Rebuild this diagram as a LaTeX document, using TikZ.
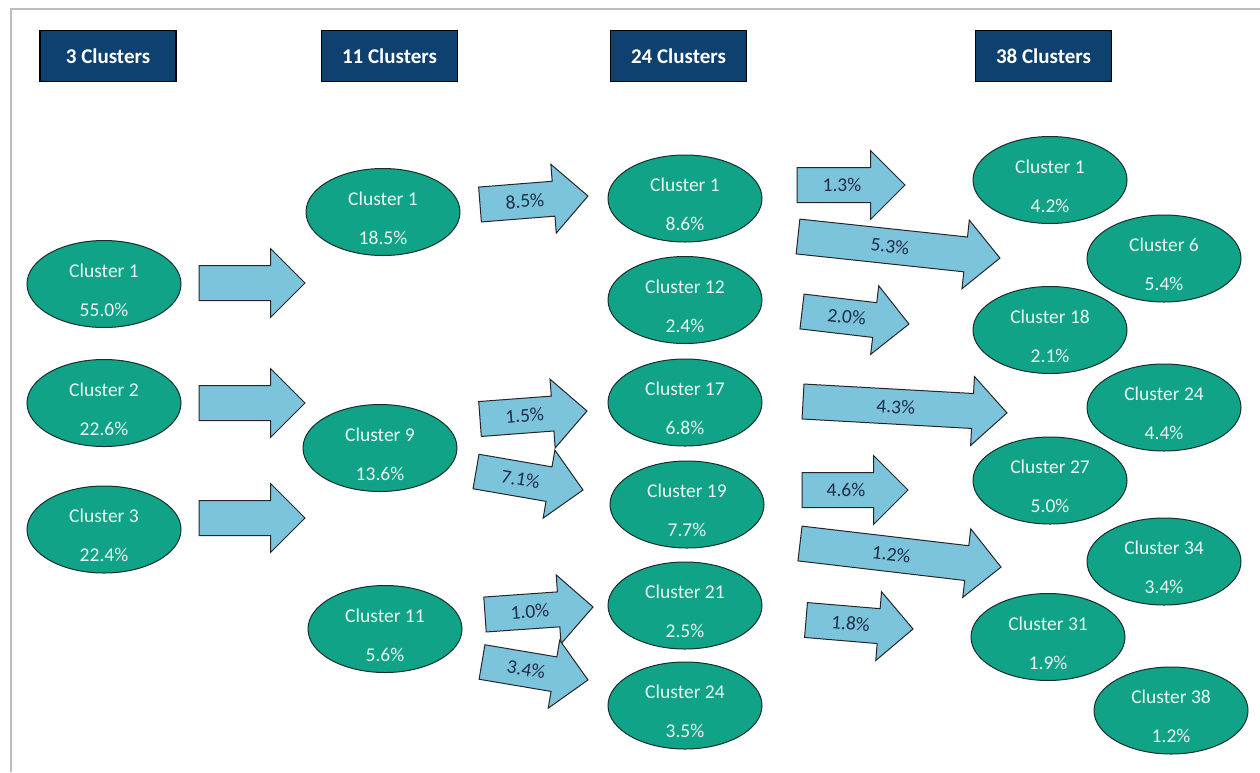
\documentclass[tikz,border=0pt]{standalone}
\usepackage{fontspec}
\setmainfont{Carlito}
\usetikzlibrary{shapes.geometric,shapes.arrows,calc}
\definecolor{hdrblue}{HTML}{0E416F}
\definecolor{clusfill}{HTML}{10A387}
\definecolor{clusedge}{HTML}{15302A}
\definecolor{arrowblue}{HTML}{7CC3DC}
\definecolor{labelnavy}{HTML}{1E2D4A}
\definecolor{clustext}{HTML}{EAF6F2}
\definecolor{framegray}{HTML}{BDBDBD}
\tikzset{
  hdr/.style={draw=black, line width=1.2pt, fill=hdrblue, text=white, font=\fontsize{21}{23}\selectfont\bfseries,
    minimum width=136pt, minimum height=51pt, inner sep=0pt},
  clus/.style={ellipse, draw=clusedge, line width=1pt, fill=clusfill, minimum width=154pt, minimum height=87pt, inner sep=0pt},
  ctext/.style={text=clustext, font=\fontsize{19.5}{21}\selectfont, inner sep=0pt},
  farrow/.style={single arrow, draw=black!85, line width=1pt, fill=arrowblue, inner sep=0pt, inner ysep=17pt,
    minimum width=68pt, single arrow head extend=17pt, outer sep=0pt},
  flabel/.style={text=labelnavy, font=\fontsize{19.5}{21}\selectfont, inner sep=0pt}
}
\newcommand\clusnode[5]{%
  \node[clus] (#1) at (#2,-#3) {};
  \node[ctext] (#1a) at ($(#1)+(0,13.5)$) {#4};
  \node[ctext] (#1b) at ($(#1)+(0,-25.5)$) {#5};}
\newcommand\flowarr[7]{%
  \node[farrow, minimum height=#4pt, rotate=#5, anchor=tail] (#1) at (#2,-#3) {};
  \node[flabel, rotate=#5] (#1l) at ($(#1.tail)!#6pt!(#1.tip)$) {#7};}
\begin{document}
\begin{tikzpicture}[x=1pt,y=1pt]
\useasboundingbox (0,0) rectangle (1260,-772);
\fill[white] (0,0) rectangle (1260,-772);
\draw[framegray, line width=2pt] (11,-772) -- (11,-9) -- (1260,-9);
% headers
\node[hdr] (h1) at (108,-56) {3 Clusters};
\node[hdr] (h2) at (389.5,-56) {11 Clusters};
\node[hdr] (h3) at (678.5,-56) {24 Clusters};
\node[hdr] (h4) at (1043.5,-56) {38 Clusters};
% column 1
\clusnode{a1}{104}{284}{Cluster 1}{55.0\%}
\clusnode{a2}{104}{403}{Cluster 2}{22.6\%}
\clusnode{a3}{104}{529.5}{Cluster 3}{22.4\%}
% column 2
\clusnode{b1}{383}{212}{Cluster 1}{18.5\%}
\clusnode{b9}{380}{448}{Cluster 9}{13.6\%}
\clusnode{b11}{385}{629}{Cluster 11}{5.6\%}
% column 3
\clusnode{c1}{685}{198.5}{Cluster 1}{8.6\%}
\clusnode{c12}{685}{300}{Cluster 12}{2.4\%}
\clusnode{c17}{685}{402.5}{Cluster 17}{6.8\%}
\clusnode{c19}{687}{504.5}{Cluster 19}{7.7\%}
\clusnode{c21}{685}{605.5}{Cluster 21}{2.5\%}
\clusnode{c24}{685}{705.5}{Cluster 24}{3.5\%}
% column 4
\clusnode{d1}{1050}{180}{Cluster 1}{4.2\%}
\clusnode{d18}{1050}{330}{Cluster 18}{2.1\%}
\clusnode{d27}{1050}{480.5}{Cluster 27}{5.0\%}
\clusnode{d31}{1048}{637}{Cluster 31}{1.9\%}
\clusnode{d6}{1164}{258.5}{Cluster 6}{5.4\%}
\clusnode{d24}{1164}{407.5}{Cluster 24}{4.4\%}
\clusnode{d34}{1164}{561.5}{Cluster 34}{3.4\%}
\clusnode{d38}{1171}{710.5}{Cluster 38}{1.2\%}
% arrows column 1 -> 2
\node[farrow, minimum height=106pt, anchor=tail] (p1) at (199,-283) {};
\node[farrow, minimum height=106pt, anchor=tail] (p2) at (199,-403) {};
\node[farrow, minimum height=106pt, anchor=tail] (p3) at (199,-518) {};
% arrows column 2 -> 3
\flowarr{q1}{480}{204.5}{108.3}{4.5}{45}{8.5\%}
\flowarr{q2}{480}{419}{107.3}{4.3}{44.7}{1.5\%}
\flowarr{q3}{476}{471.5}{108.6}{-9.8}{45.3}{7.1\%}
\flowarr{q4}{485}{614.5}{108.3}{4.0}{45}{1.0\%}
\flowarr{q5}{482}{662}{107.5}{-9.6}{44.8}{3.4\%}
% arrows column 3 -> 4
\flowarr{r1}{797}{185}{108}{0}{45}{1.3\%}
\flowarr{r2}{798}{236.5}{203.1}{-6.1}{92.5}{5.3\%}
\flowarr{r3}{802}{311.5}{107.7}{-6.7}{45}{2.0\%}
\flowarr{r4}{803}{401.5}{204.3}{-3.2}{93}{4.3\%}
\flowarr{r5}{802}{490}{106}{0}{44}{4.6\%}
\flowarr{r6}{800}{543.5}{202.4}{-6.7}{92}{1.2\%}
\flowarr{r7}{806}{620}{107.4}{-4.8}{44.7}{1.8\%}
\end{tikzpicture}
\end{document}
